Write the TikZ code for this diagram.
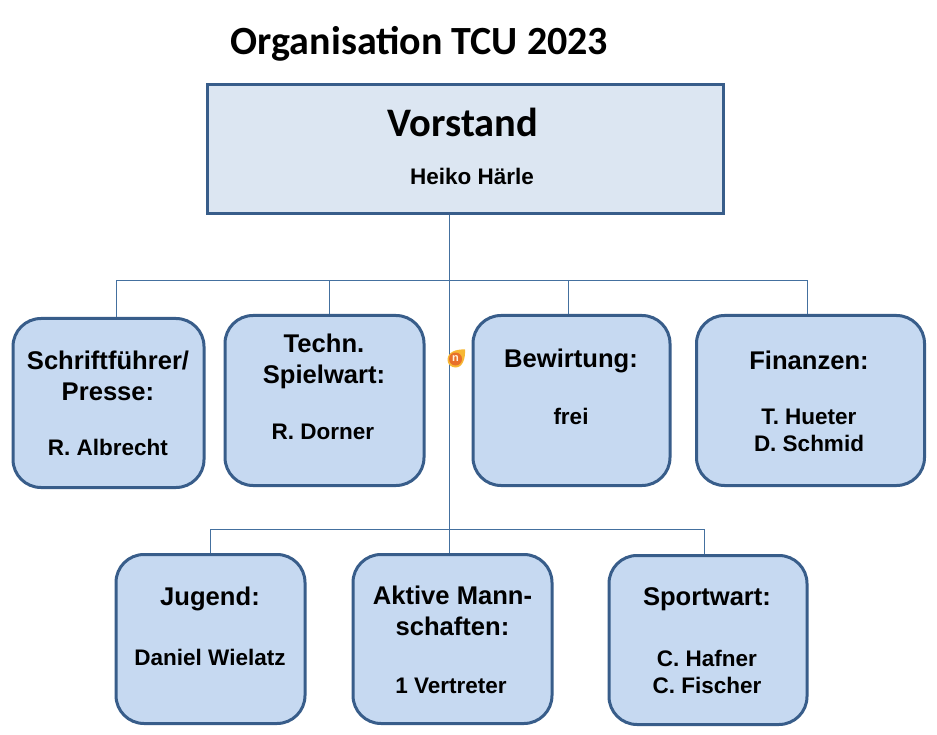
\documentclass[tikz,border=0pt]{standalone}
\usepackage{fontspec}
\setmainfont{Liberation Sans}
\newfontfamily\headfont{Carlito}
\definecolor{topfill}{HTML}{DCE6F2}
\definecolor{boxfill}{HTML}{C6D9F1}
\definecolor{edge}{HTML}{385D8A}
\definecolor{wire}{HTML}{44709F}
\definecolor{iconout}{HTML}{F7B733}
\definecolor{iconin}{HTML}{E8702A}
\definecolor{iconn}{HTML}{FFF2DC}
\tikzset{
 rbox/.style={draw=edge,line width=3pt,fill=boxfill,rounded corners=28pt,inner sep=0pt},
 wirel/.style={draw=wire,line width=1pt},
 lbl/.style={font=\fontsize{25.6}{31}\selectfont\bfseries,align=center,inner sep=0pt,text=black},
 sub/.style={font=\fontsize{22.5}{27}\selectfont\bfseries,align=center,inner sep=0pt,text=black}}
\begin{document}
\begin{tikzpicture}[x=1pt,y=-1pt]
\useasboundingbox[fill=white] (0,0) rectangle (937,735);
\node[inner sep=0pt,font=\headfont\fontsize{40}{46}\selectfont\bfseries] (title) at (419.5,43.5) {Organisation TCU 2023};
\node[draw=edge,line width=3pt,fill=topfill,minimum width=516pt,minimum height=129pt,inner sep=0pt] (top) at (465.5,149) {};
\node[inner sep=0pt,font=\headfont\fontsize{40.5}{46}\selectfont\bfseries] (toph) at (463,122.5) {Vorstand};
\node[sub] (topn) at (472,176) {Heiko Härle};
\coordinate (j1) at (449,281);
\coordinate (j2) at (449,529);
\coordinate (ja) at (116,281);
\coordinate (jb) at (329.5,281);
\coordinate (jc) at (568.5,281);
\coordinate (jd) at (807,281);
\coordinate (je) at (210.5,529);
\coordinate (jg) at (704,529);
\node[rbox,minimum width=191pt,minimum height=169pt] (a) at (108.5,403) {};
\node[rbox,minimum width=199pt,minimum height=170pt] (b) at (324.5,400.5) {};
\node[rbox,minimum width=197pt,minimum height=170pt] (c) at (571.5,400.5) {};
\node[rbox,minimum width=228pt,minimum height=170pt] (d) at (810.5,400.5) {};
\node[rbox,minimum width=189pt,minimum height=169pt] (e) at (210.5,639) {};
\node[rbox,minimum width=199pt,minimum height=169pt] (f) at (452.5,639) {};
\node[rbox,minimum width=198pt,minimum height=169pt] (g) at (708,640) {};
\draw[wirel] (top.south -| j1) -- (f.north -| j1);
\draw[wirel] (ja |- a.north) -- (ja) -- (jd) -- (jd |- d.north);
\draw[wirel] (jb) -- (jb |- b.north);
\draw[wirel] (jc) -- (jc |- c.north);
\draw[wirel] (je |- e.north) -- (je) -- (jg) -- (jg |- g.north);
\fill[iconout] (447.5,360) .. controls (447.5,352) and (456,349) .. (465,349.5) .. controls (465.5,358) and (463,367.5) .. (455.5,367.5) .. controls (451,367.5) and (447.5,364) .. (447.5,360) -- cycle;
\node[circle,inner sep=0pt,minimum size=13pt,fill=iconin,text=iconn,font=\fontsize{11}{11}\selectfont\bfseries] (icon) at (455.5,359) {n};
\node[lbl] (at) at (108,375.5) {Schriftführer/\\Presse:};
\node[sub] (an) at (108,447) {R. Albrecht};
\node[lbl] (bt) at (324,361) {Techn.\\Spielwart:};
\node[sub] (bn) at (323,432) {R. Dorner};
\node[lbl] (ct) at (571,360.5) {Bewirtung:};
\node[sub] (cn) at (571,416) {frei};
\node[lbl] (dt) at (809,360.5) {Finanzen:};
\node[sub] (dn) at (809,430) {T. Hueter\\D. Schmid};
\node[lbl] (et) at (210,598.5) {Jugend:};
\node[sub] (en) at (210,657) {Daniel Wielatz};
\node[lbl] (ft) at (452.5,610.5) {Aktive Mann-\\schaften:};
\node[sub] (fn) at (451,686) {1 Vertreter};
\node[lbl] (gt) at (707,599) {Sportwart:};
\node[sub] (gn) at (707,672) {C. Hafner\\C. Fischer};
\end{tikzpicture}
\end{document}
